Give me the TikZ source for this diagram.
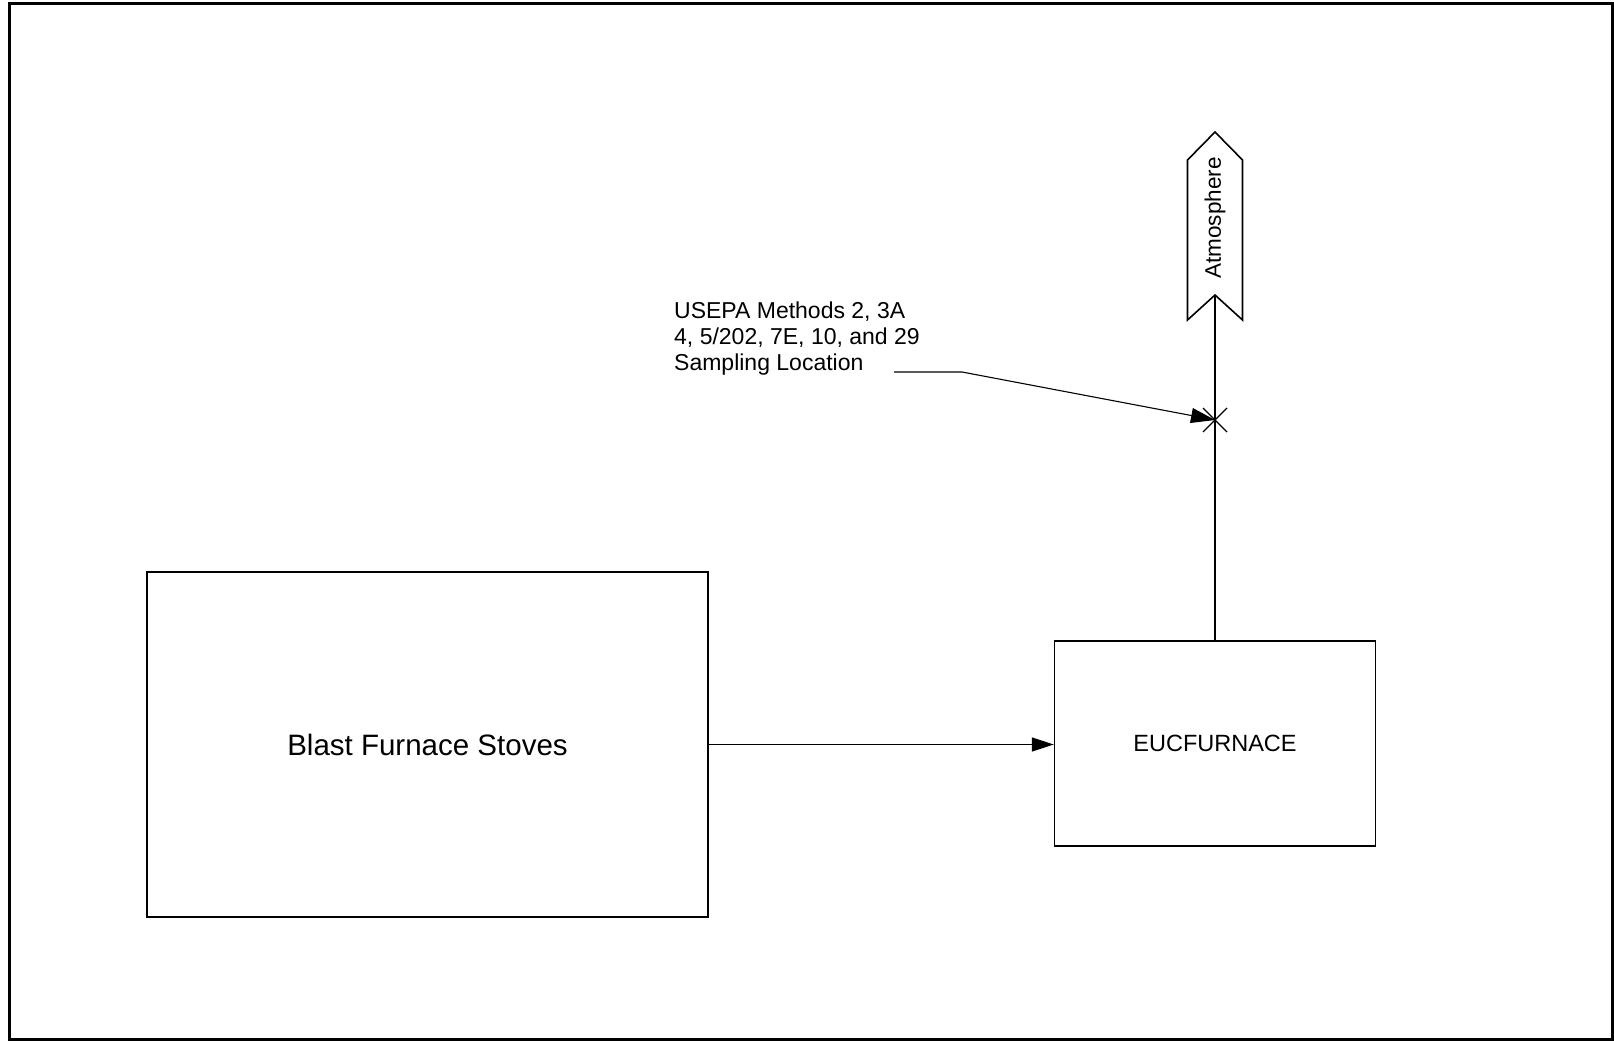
\documentclass[tikz,border=0pt]{standalone}
\usepackage{fontspec}
\setmainfont{Liberation Sans}
\usetikzlibrary{arrows.meta,calc}
\tikzset{
  box/.style={draw, line width=1.4pt, inner sep=0pt},
  flow/.style={line width=1.2pt, -{Triangle[length=22pt,width=14pt]}},
  thin/.style={line width=1.1pt},
}
\begin{document}
\begin{tikzpicture}[x=1pt,y=-1pt]
\useasboundingbox (0,0) rectangle (1614,1041);
\fill[white] (0,0) rectangle (1614,1041);
% frame
\draw[line width=3pt] (9,4) rectangle (1612,1039);
% boxes
\node[box, minimum width=561pt, minimum height=345pt] (bfs) at (427.5,744.5)
  {\fontsize{29.5}{34}\selectfont Blast Furnace Stoves};
\node[box, minimum width=321pt, minimum height=205pt] (euc) at (1215,743.5) {};
\node at (euc.center) {\fontsize{23.5}{28}\selectfont EUCFURNACE};
% flow arrow
\draw[flow] (bfs.east) -- (bfs.east -| euc.west);
% atmosphere
\coordinate (notch) at (1215,295);
\draw[line width=1.6pt] (1187.5,320) -- (1187.5,160) -- (1215,132) -- (1242.5,160) -- (1242.5,320) -- (notch) -- cycle;
\node[rotate=90] (atm) at (1215,218) {\fontsize{22.5}{26}\selectfont Atmosphere};
\draw[thin] (euc.north) -- (notch);
% sampling point
\coordinate (sp) at (1215,420);
\draw[thin] ($(sp)+(-12,-12)$) -- ($(sp)+(12,12)$);
\draw[thin] ($(sp)+(-12,12)$) -- ($(sp)+(12,-12)$);
% label
\node[anchor=north west, align=left, inner sep=0pt, font=\fontsize{23}{26}\selectfont] (lbl) at (674,302)
  {USEPA Methods 2, 3A\\4, 5/202, 7E, 10, and 29\\Sampling Location};
\coordinate (l1) at (894,372);
\coordinate (l2) at (962,372);
\draw[thin, -{Triangle[length=24pt,width=15pt]}] (l1) -- (l2) -- (sp);
\end{tikzpicture}
\end{document}
